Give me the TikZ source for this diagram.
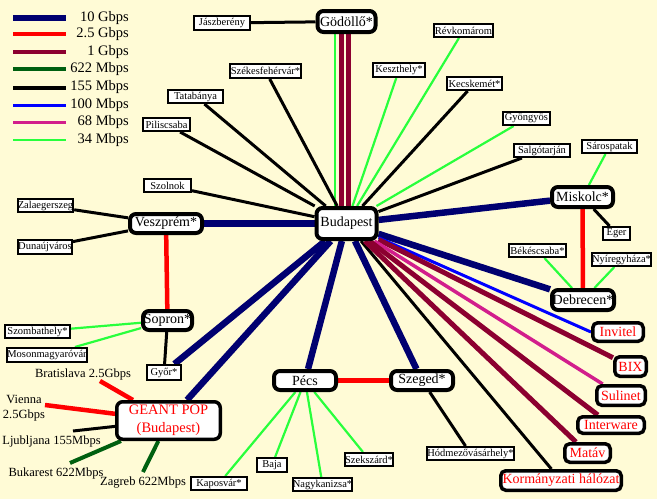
\documentclass[tikz,border=0pt]{standalone}
\usepackage{fontspec}
\setmainfont{Liberation Serif}
\pgfdeclarelayer{bgl}
\pgfdeclarelayer{lines}
\pgfsetlayers{bgl,lines,main}
\definecolor{bgc}{RGB}{255,251,214}
\definecolor{navyc}{RGB}{0,0,112}
\definecolor{redc}{RGB}{255,0,0}
\definecolor{maroonc}{RGB}{140,0,48}
\definecolor{dkgreenc}{RGB}{0,96,16}
\definecolor{bluec}{RGB}{0,0,255}
\definecolor{magc}{RGB}{210,30,140}
\definecolor{greenc}{RGB}{40,255,60}
\tikzset{
  big/.style={draw, line width=4pt, rounded corners=6pt, fill=white, inner sep=0pt, font=\fontsize{14}{15}\selectfont},
  redbox/.style={draw, line width=3.5pt, rounded corners=5pt, fill=white, inner sep=0pt, text=redc, font=\fontsize{14}{15}\selectfont},
  town/.style={draw, line width=2pt, fill=white, inner sep=0pt, minimum height=13pt, font=\fontsize{10.5}{12}\selectfont},
  lab/.style={inner sep=0pt, font=\fontsize{12.5}{15}\selectfont},
  leg/.style={inner sep=0pt, anchor=east, font=\fontsize{14.5}{15}\selectfont},
  cA/.style={navyc, line width=6.5pt},
  cB/.style={redc, line width=4.5pt},
  cC/.style={maroonc, line width=5pt},
  cD/.style={dkgreenc, line width=4pt},
  cE/.style={black, line width=3pt},
  cF/.style={bluec, line width=3pt},
  cG/.style={magc, line width=3.5pt},
  cH/.style={greenc, line width=2.2pt},
}
\begin{document}
\begin{tikzpicture}[x=1pt,y=-1pt]
\begin{pgfonlayer}{bgl}
\fill[bgc] (0,0) rectangle (657,499);
\end{pgfonlayer}
\useasboundingbox (0,0) rectangle (657,499);

% legend
\draw[navyc, line width=6pt] (13,18) coordinate (la1) -- (66,18) coordinate (lb1);
\draw[redc, line width=4pt] (13,34) coordinate (la2) -- (66,34) coordinate (lb2);
\draw[maroonc, line width=4pt] (13,52) coordinate (la3) -- (66,52) coordinate (lb3);
\draw[dkgreenc, line width=4pt] (13,68.5) coordinate (la4) -- (66,68.5) coordinate (lb4);
\draw[black, line width=4pt] (13,87.5) coordinate (la5) -- (66,87.5) coordinate (lb5);
\draw[bluec, line width=3.5pt] (13,105.5) coordinate (la6) -- (66,105.5) coordinate (lb6);
\draw[magc, line width=3.5pt] (13,122.5) coordinate (la7) -- (66,122.5) coordinate (lb7);
\draw[greenc, line width=2.5pt] (13,140) coordinate (la8) -- (66,140) coordinate (lb8);
\node[leg] (t1) at (129,18) {10 Gbps};
\node[leg] (t2) at (129,34) {2.5 Gbps};
\node[leg] (t3) at (129,52) {1 Gbps};
\node[leg] (t4) at (129,69) {622 Mbps};
\node[leg] (t5) at (129,87.5) {155 Mbps};
\node[leg] (t6) at (129,105.5) {100 Mbps};
\node[leg] (t7) at (129,122.5) {68 Mbps};
\node[leg] (t8) at (129,140) {34 Mbps};

% main nodes
\node[big, minimum width=60pt, minimum height=31pt] (bud) at (346.5,223.5) {Budapest};
\node[big, minimum width=58pt, minimum height=21pt] (god) at (346.5,21.5) {Gödöllő*};
\node[big, minimum width=61pt, minimum height=20pt] (mis) at (582.5,197) {Miskolc*};
\node[big, minimum width=62pt, minimum height=20pt] (deb) at (583,300) {Debrecen*};
\node[big, minimum width=62pt, minimum height=19pt] (sze) at (422,380.5) {Szeged*};
\node[big, minimum width=62pt, minimum height=19pt] (pec) at (305,380.5) {Pécs};
\node[big, minimum width=72pt, minimum height=19pt] (ves) at (166,223.5) {Veszprém*};
\node[big, minimum width=49pt, minimum height=19pt] (sop) at (167.5,320.5) {Sopron*};
\node[big, line width=3.5pt, minimum width=103.5pt, minimum height=37.5pt, text=redc, align=center, font=\fontsize{14.5}{18}\selectfont] (geant) at (168.5,420.5) {GEANT POP\\(Budapest)};

% red boxes
\node[redbox, minimum width=50.5pt, minimum height=18.5pt] (inv) at (618,332) {Invitel};
\node[redbox, minimum width=31.5pt, minimum height=19.5pt] (bix) at (630.5,366.5) {BIX};
\node[redbox, minimum width=48.5pt, minimum height=19.5pt] (sul) at (621,395.5) {Sulinet};
\node[redbox, minimum width=66.5pt, minimum height=16.5pt] (int) at (611,425) {Interware};
\node[redbox, minimum width=45.5pt, minimum height=18.5pt] (mat) at (587.5,453) {Matáv};
\node[redbox, minimum width=120.5pt, minimum height=19.5pt] (kor) at (561,480.5) {Kormányzati hálózat};

% towns
\node[town, minimum width=56pt, minimum height=14pt] (jas) at (222,23) {Jászberény};
\node[town, minimum width=71pt, minimum height=14pt] (sfv) at (265.5,71) {Székesfehérvár*};
\node[town, minimum width=52pt, minimum height=14pt] (kes) at (399,70) {Keszthely*};
\node[town, minimum width=59pt] (rev) at (463.5,30.5) {Révkomárom};
\node[town, minimum width=55pt] (kec) at (474.5,83.5) {Kecskemét*};
\node[town, minimum width=47pt] (gyo) at (526.5,118.5) {Gyöngyös};
\node[town, minimum width=56pt] (sal) at (542,150.5) {Salgótarján};
\node[town, minimum width=55pt] (sar) at (609.5,146.5) {Sárospatak};
\node[town, minimum width=55pt] (tat) at (195.5,96.5) {Tatabánya};
\node[town, minimum width=47pt] (pil) at (166.5,124.5) {Piliscsaba};
\node[town, minimum width=47pt] (szo) at (167.5,185.5) {Szolnok};
\node[town, minimum width=55pt] (zal) at (45.5,205.5) {Zalaegerszeg};
\node[town, minimum width=52pt, minimum height=14pt] (dun) at (45,247) {Dunaújváros};
\node[town, minimum width=65pt] (szom) at (37.5,331.5) {Szombathely*};
\node[town, minimum width=78pt, minimum height=14pt] (mos) at (47,355) {Mosonmagyaróvár};
\node[town, minimum width=34pt, minimum height=15pt] (gyr) at (164,372.5) {Győr*};
\node[town, minimum width=27pt] (eger) at (616.5,233.5) {Eger};
\node[town, minimum width=57pt] (bek) at (537.5,250.5) {Békéscsaba*};
\node[town, minimum width=59pt] (nyi) at (621.5,259.5) {Nyíregyháza*};
\node[town, minimum width=30pt, minimum height=14pt] (baja) at (272,465) {Baja};
\node[town, minimum width=59pt] (nagy) at (322.5,484.5) {Nagykanizsa*};
\node[town, minimum width=48pt] (szek) at (369,459.5) {Szekszárd*};
\node[town, minimum width=56pt] (kap) at (219,483.5) {Kaposvár*};
\node[town, minimum width=85pt] (hod) at (470.5,453.5) {Hódmezővásárhely*};

% free labels
\node[lab] (bra) at (83,374.5) {Bratislava 2.5Gbps};
\node[lab, align=center] (vie) at (24,408) {Vienna\\2.5Gbps};
\node[lab] (lju) at (51.5,441) {Ljubljana 155Mbps};
\node[lab] (buk) at (56,473) {Bukarest 622Mbps};
\node[lab] (zag) at (143,483) {Zagreb 622Mbps};
\coordinate (braE) at (100,381);
\coordinate (vieE) at (45,405);
\coordinate (ljuE) at (73,431);
\coordinate (bukE) at (70,463);
\coordinate (zagE) at (143,472);

\begin{pgfonlayer}{lines}
% Gödöllő - Budapest
\draw[cH, transform canvas={xshift=-11.5pt}] (god) -- (bud);
\draw[cC, transform canvas={xshift=-5pt}] (god) -- (bud);
\draw[cC, transform canvas={xshift=1.5pt}] (god) -- (bud);
\draw[cE] (jas) -- (god);
% 155 Mbps from Budapest
\draw[cE] (bud) -- (sfv);
\draw[cE] (bud) -- (tat);
\draw[cE] (bud) -- (pil);
\draw[cE] (bud) -- (szo);
\draw[cE] (bud) -- (kec);
\draw[cE] (bud) -- (sal);
\draw[cE] (bud) -- (kor);
% 34 Mbps from Budapest
\draw[cH] (bud) -- (kes);
\draw[cH] (bud) -- (rev);
\draw[cH] (bud) -- (gyo);
% 10 Gbps
\draw[cA] (bud) -- (ves);
\draw[cA] (bud) -- (mis);
\draw[cA] (bud) -- (deb);
\draw[cA] (bud) -- (sze);
\draw[cA] (bud) -- (pec);
\draw[cA] (bud) -- (gyr);
\draw[cA] (bud) -- (geant);
% others from Budapest
\draw[cF] (bud) -- (inv.west);
\draw[cC] (bud) -- (bix);
\draw[cG] (bud) -- (sul);
\draw[cC] (bud) -- (int);
\draw[cC] (bud) -- (mat);
% regional
\draw[cB] (ves) -- (sop);
\draw[cB] (mis) -- (deb);
\draw[cB] (pec) -- (sze);
\draw[cE] (sop) -- (gyr);
\draw[cE] (ves) -- (zal);
\draw[cE] (ves) -- (dun);
\draw[cE] (mis) -- (eger);
\draw[cE] (sze) -- (hod);
\draw[cH] (sop) -- (szom);
\draw[cH] (sop) -- (mos);
\draw[cH] (mis) -- (sar);
\draw[cH] (deb) -- (bek);
\draw[cH] (deb) -- (nyi);
\draw[cH] (pec) -- (kap);
\draw[cH] (pec) -- (baja);
\draw[cH] (pec) -- (nagy);
\draw[cH] (pec) -- (szek);
% GEANT external
\draw[cB] (braE) -- (geant);
\draw[cB] (vieE) -- (geant);
\draw[cE] (ljuE) -- (geant);
\draw[cD] (bukE) -- (geant);
\draw[cD] (zagE) -- (geant);
\end{pgfonlayer}
\end{tikzpicture}
\end{document}
